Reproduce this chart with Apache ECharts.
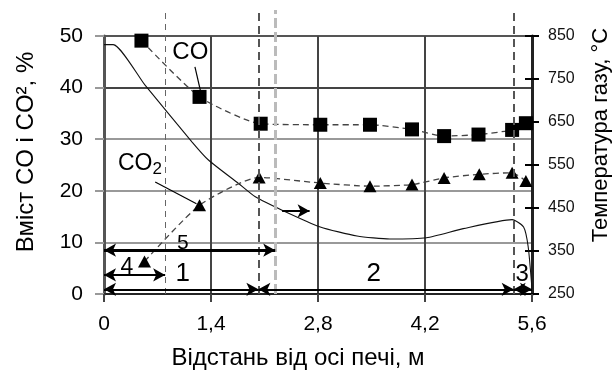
<!DOCTYPE html>
<html><head><meta charset="utf-8">
<script src="https://cdn.jsdelivr.net/npm/echarts@6/dist/echarts.min.js"></script>
<style>html,body{margin:0;padding:0;background:#fff}#c{width:615px;height:376px}</style>
</head><body><div id="c"></div>
<script>
// ---- data ----
const xCO  = [0.49, 1.25, 2.05, 2.83, 3.48, 4.03, 4.45, 4.90, 5.34, 5.52];
const yCO  = [49.1, 38.2, 33.0, 32.8, 32.8, 31.9, 30.6, 30.9, 31.8, 33.1];
const xCO2 = [0.53, 1.25, 2.03, 2.83, 3.48, 4.03, 4.45, 4.91, 5.34, 5.52];
const yCO2 = [6.3, 17.2, 22.6, 21.5, 20.9, 21.2, 22.5, 23.2, 23.5, 21.9];
const xT   = [0, 0.12, 0.54, 1.15, 1.37, 1.76, 1.98, 2.33, 2.83, 3.31, 3.74, 4.22, 4.70, 5.34, 5.49, 5.55, 5.60];
const yT   = [830, 830, 735, 604, 561, 507, 476, 445, 406, 385, 378, 381, 402, 423, 406, 360, 262];
const xTicks = [0, 1.4, 2.8, 4.2, 5.6];
const zoneBounds = [0.8, 2.02, 2.24, 5.36];   // dashed vertical boundaries
const xLabel = 'Відстань від осі печі, м';
const yLabelL = 'Вміст CO і CO², %';
const yLabelR = 'Температура газу, °C';

const NARROW = '"Liberation Sans Narrow", "Liberation Sans", Arial, sans-serif';
const SANS = '"Liberation Sans", Arial, sans-serif';
const zip = (a, b) => a.map((v, i) => [v, b[i]]);

const chart = echarts.init(document.getElementById('c'), null, {renderer: 'canvas'});

const dashStyles = [
  {color: '#666', width: 1, type: [6, 5]},
  {color: '#555', width: 2, type: [8, 5]},
  {color: '#bbb', width: 3, type: [10, 4]},
  {color: '#555', width: 2, type: [8, 5]}
];

function arrow(x1, x2, y, w, both) {
  return [{coord: [x1, y], symbol: both ? 'arrow' : 'none', lineStyle: {color: '#000', width: w, type: 'solid'}},
          {coord: [x2, y], symbol: 'arrow'}];
}
function seg(x1, y1, x2, y2) {
  return [{coord: [x1, y1], symbol: 'none', lineStyle: {color: '#000', width: 1.2, type: 'solid'}},
          {coord: [x2, y2], symbol: 'none'}];
}
function txt(x, y, t, size) {
  return {coord: [x, y], value: t, symbol: 'rect', symbolSize: 0,
          label: {show: true, position: 'inside', formatter: t, color: '#000', fontFamily: NARROW, fontSize: size}};
}

const option = {
  animation: false,
  backgroundColor: '#fff',
  grid: [
    {left: 104, right: 83, top: 36, bottom: 82, containLabel: false},
    {left: 104, right: 83, top: 10, bottom: 82, containLabel: false, show: false}
  ],
  xAxis: [{
    type: 'value', min: 0, max: 5.6, interval: 1.4, gridIndex: 0,
    axisLine: {show: true, lineStyle: {color: '#222', width: 1.5}},
    axisTick: {show: true, length: 8, lineStyle: {color: '#444', width: 2}},
    axisLabel: {margin: 20, color: '#000', fontFamily: NARROW, fontSize: 21,
      formatter: v => String(+v.toFixed(1)).replace('.', ',')},
    splitLine: {show: true, lineStyle: {color: '#444', width: 2}}
  }, {
    type: 'value', min: 0, max: 5.6, gridIndex: 1, show: false
  }],
  yAxis: [
    {type: 'value', min: 0, max: 50, interval: 10, position: 'left',
     axisLine: {show: true, lineStyle: {color: '#555', width: 3}},
     axisTick: {show: true, length: 9, lineStyle: {color: '#999', width: 2}},
     axisLabel: {margin: 21, color: '#000', fontFamily: NARROW, fontSize: 21},
     splitLine: {show: true, lineStyle: {color: ['#333', '#999', '#999', '#999', '#444', '#555'], width: 2}}},
    {type: 'value', min: 250, max: 850, interval: 100, position: 'right',
     axisLine: {show: true, lineStyle: {color: '#222', width: 3}},
     axisTick: {show: true, length: 7, lineStyle: {color: '#000', width: 2}},
     axisLabel: {margin: 16, color: '#111', fontFamily: SANS, fontSize: 16},
     splitLine: {show: false}},
    {type: 'value', min: 250, max: 850, interval: 100, position: 'right', offset: 0,
     axisLine: {show: false},
     axisTick: {show: true, inside: true, length: 7, lineStyle: {color: '#000', width: 2}},
     axisLabel: {show: false}, splitLine: {show: false}},
    {type: 'value', min: 0, max: 55, gridIndex: 1, show: false}
  ],
  graphic: [
    {type: 'text', x: 298, y: 358, style: {text: xLabel, font: '24px ' + NARROW, fill: '#000', textAlign: 'center', textVerticalAlign: 'middle'}},
    {type: 'text', x: 26, y: 152, rotation: Math.PI / 2, style: {text: yLabelL, font: '24px ' + NARROW, fill: '#000', textAlign: 'center', textVerticalAlign: 'middle'}},
    {type: 'text', x: 601, y: 135, rotation: Math.PI / 2, style: {text: yLabelR, font: '22px ' + NARROW, fill: '#000', textAlign: 'center', textVerticalAlign: 'middle'}}
  ],
  series: [
    {name: 'bounds', type: 'line', xAxisIndex: 1, yAxisIndex: 3, data: [], silent: true, z: 1,
     markLine: {silent: true, symbol: 'none', animation: false, label: {show: false},
       data: zoneBounds.map((x, i) => [{coord: [x, 0], lineStyle: dashStyles[i]}, {coord: [x, 55]}])}
    },
    {name: 'zones', type: 'line', yAxisIndex: 0, data: [], silent: true, z: 5,
     markLine: {silent: true, symbol: 'none', animation: false, label: {show: false},
       data: [
           arrow(0, 2.24, 8.5, 3, true),
           arrow(0, 0.8, 3.7, 2, true),
           arrow(0, 2.02, 0.9, 2, true),
           arrow(2.02, 5.36, 0.9, 2, true),
           arrow(5.36, 5.6, 0.9, 2, true),
           arrow(2.33, 2.69, 16.1, 2, false),
           seg(1.19, 44.0, 1.26, 39.5),
           seg(0.67, 21.7, 1.21, 17.5)
       ],
       symbolSize: [10, 12]
     },
     markPoint: {silent: true, animation: false,
       data: [
         txt(1.13, 46.8, 'CO', 24),
         {coord: [0.47, 25.3], value: 'CO2', symbol: 'rect', symbolSize: 0,
          label: {show: true, position: 'inside', formatter: '{a|CO}{b|2}', color: '#000',
                  rich: {a: {fontFamily: NARROW, fontSize: 23}, b: {fontFamily: NARROW, fontSize: 17, padding: [12, 0, 0, 0]}}}},
         txt(1.03, 9.8, '5', 21),
         txt(0.30, 5.2, '4', 23),
         txt(1.03, 3.9, '1', 26),
         txt(3.53, 4.0, '2', 26),
         txt(5.47, 3.9, '3', 24)
       ]}
    },
    {name: 'T', type: 'line', yAxisIndex: 1, data: zip(xT, yT), smooth: 0.2, symbol: 'none',
     lineStyle: {color: '#111', width: 1.1}, z: 3},
    {name: 'CO', type: 'line', yAxisIndex: 0, data: zip(xCO, yCO), symbol: 'rect', symbolSize: 14,
     smooth: 0.2, lineStyle: {color: '#444', width: 1.3, type: [6, 4]}, itemStyle: {color: '#000'}, z: 4},
    {name: 'CO2', type: 'line', yAxisIndex: 0, data: zip(xCO2, yCO2), symbol: 'triangle', symbolSize: [13, 12],
     smooth: 0.2, lineStyle: {color: '#444', width: 1.3, type: [6, 4]}, itemStyle: {color: '#000'}, z: 4}
  ]
};
chart.setOption(option);
</script></body></html>
